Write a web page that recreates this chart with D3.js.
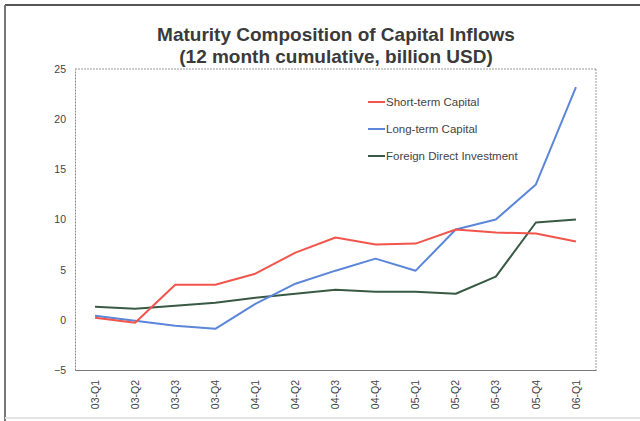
<!DOCTYPE html>
<html>
<head>
<meta charset="utf-8">
<script src="https://cdn.jsdelivr.net/npm/d3@7"></script>
<style>
  html, body { margin: 0; padding: 0; background: #fff; }
  svg { display: block; }
  text { font-family: "Liberation Sans", Arial, sans-serif; }
</style>
</head>
<body>
<svg id="chart" width="640" height="421"></svg>
<script>
// Quarter labels along the x axis
const quarters = ["03-Q1","03-Q2","03-Q3","03-Q4","04-Q1","04-Q2","04-Q3","04-Q4",
                  "05-Q1","05-Q2","05-Q3","05-Q4","06-Q1"];

// 12-month cumulative inflows, billion USD
const shortTerm = [0.2, -0.3, 3.5, 3.5, 4.6, 6.7, 8.2, 7.5, 7.6, 9.0, 8.7, 8.6, 7.8];
const longTerm  = [0.4, -0.1, -0.6, -0.9, 1.6, 3.6, 4.9, 6.1, 4.9, 9.0, 10.0, 13.5, 23.2];
const fdi       = [1.3, 1.1, 1.4, 1.7, 2.2, 2.6, 3.0, 2.8, 2.8, 2.6, 4.3, 9.7, 10.0];

const yTicks = [-5, 0, 5, 10, 15, 20, 25];

const seriesNames  = ["Short-term Capital", "Long-term Capital", "Foreign Direct Investment"];
const seriesValues = [shortTerm, longTerm, fdi];
const seriesColors = ["#f2554b", "#5b86d9", "#385a44"];

const svg = d3.select("#chart");

// Outer frame
svg.append("rect").attr("x", 0).attr("y", 0).attr("width", 640).attr("height", 421).attr("fill", "#fff");
svg.append("line").attr("x1", 5).attr("x2", 640).attr("y1", 5).attr("y2", 5)
   .attr("stroke", "#555").attr("stroke-width", 2);
svg.append("line").attr("x1", 5).attr("x2", 5).attr("y1", 5).attr("y2", 421)
   .attr("stroke", "#777").attr("stroke-width", 2);
svg.append("line").attr("x1", 5).attr("x2", 640).attr("y1", 418).attr("y2", 418)
   .attr("stroke", "#e4e4e4").attr("stroke-width", 2);

// Title
const title = svg.append("text").attr("text-anchor", "middle")
  .attr("fill", "#3a3a3a").attr("font-weight", "bold").attr("font-size", 19);
title.append("tspan").attr("x", 336).attr("y", 41).text("Maturity Composition of Capital Inflows");
title.append("tspan").attr("x", 336).attr("y", 63).text("(12 month cumulative, billion USD)");

const plot = { left: 75, right: 596, top: 69, bottom: 370 };

const x = d3.scaleBand().domain(quarters).range([plot.left, plot.right]);
const y = d3.scaleLinear().domain([-5, 25]).range([plot.bottom, plot.top]);

// Plot border: top and right thin dotted gray
svg.append("line").attr("x1", plot.left).attr("x2", plot.right).attr("y1", plot.top).attr("y2", plot.top)
   .attr("stroke", "#999").attr("stroke-width", 1).attr("stroke-dasharray", "2,1");
svg.append("line").attr("x1", plot.right).attr("x2", plot.right).attr("y1", plot.top).attr("y2", plot.bottom)
   .attr("stroke", "#999").attr("stroke-width", 1).attr("stroke-dasharray", "2,1");

// Y axis
const yAxis = svg.append("g").attr("transform", `translate(${plot.left},0)`)
  .call(d3.axisLeft(y).tickValues(yTicks).tickSize(0).tickPadding(9));
yAxis.select(".domain").attr("stroke", "#8a8a8a").attr("stroke-dasharray", "2,1");
yAxis.selectAll("text").attr("font-size", 10.5).attr("fill", "#444")
  .attr("font-family", "'Liberation Sans', Arial, sans-serif");

// X axis
const xAxis = svg.append("g").attr("transform", `translate(0,${plot.bottom})`)
  .call(d3.axisBottom(x).tickSize(0).tickPadding(0));
xAxis.select(".domain").attr("stroke", "#777").attr("stroke-width", 1.2);
xAxis.selectAll("text")
  .attr("font-size", 10.5).attr("fill", "#444")
  .attr("font-family", "'Liberation Sans', Arial, sans-serif")
  .attr("text-anchor", "end")
  .attr("dy", "0.35em")
  .attr("transform", "translate(0,10) rotate(-90)")
  .attr("x", 0).attr("y", 0);

// Series lines
const line = d3.line()
  .x((d, i) => x(quarters[i]) + x.bandwidth() / 2)
  .y(d => y(d));

// Draw FDI first, then long-term, then short-term on top
[2, 1, 0].forEach(k => {
  svg.append("path").datum(seriesValues[k])
    .attr("fill", "none").attr("stroke", seriesColors[k])
    .attr("stroke-width", 2).attr("stroke-linejoin", "round")
    .attr("d", line);
});

// Legend
const legend = svg.append("g").attr("transform", "translate(368,102)");
seriesNames.forEach((name, i) => {
  const g = legend.append("g").attr("transform", `translate(0,${i * 27})`);
  g.append("line").attr("x1", 0).attr("x2", 17).attr("y1", 0).attr("y2", 0)
    .attr("stroke", seriesColors[i]).attr("stroke-width", 2);
  g.append("text").attr("x", 18).attr("y", 0).attr("dy", "0.35em")
    .attr("font-size", 11.5).attr("fill", "#444").text(name);
});
</script>
</body>
</html>
